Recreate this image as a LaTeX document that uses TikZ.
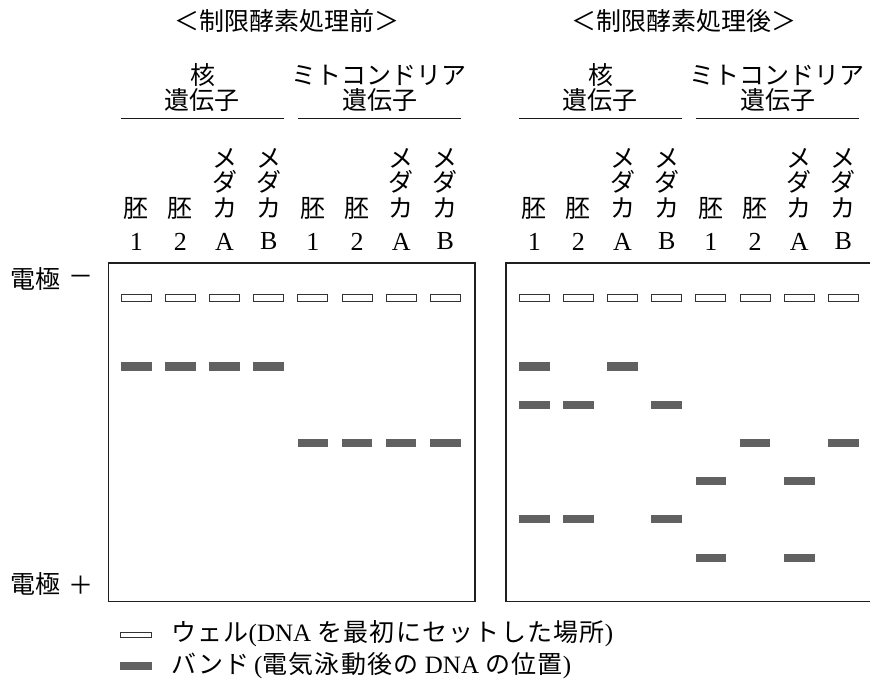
\documentclass[tikz,border=0pt]{standalone}
\usepackage{fontspec}
\setmainfont{Liberation Serif}
\newfontfamily\jp{Noto Sans CJK JP}
\newfontfamily\jpls{Noto Sans CJK JP}[LetterSpace=5]
\newfontfamily\lat{Liberation Serif}
\newcommand\jpsize{\fontsize{25}{29}\selectfont}
\begin{document}
\begin{tikzpicture}[x=1pt,y=-1pt,
  jptext/.style={font=\jp\jpsize, inner sep=0},
  legtext/.style={font=\jpls\jpsize, inner sep=0},
  lattext/.style={font=\lat\fontsize{26}{30}\selectfont, inner sep=0},
  gelbox/.style={draw=black!88, line width=1.8pt, inner sep=0, anchor=north west},
  wellbox/.style={draw=black!80, line width=0.9pt, fill=white, minimum width=30pt, minimum height=7.2pt, inner sep=0},
  bandbox/.style={fill=black!62, draw=none, minimum width=30.7pt, minimum height=8.4pt, inner sep=0},
  headrule/.style={line width=1.3pt, draw=black!90}]
\clip (0,0) rectangle (870,687);
\fill[white] (0,0) rectangle (870,687);

% gels
\node[gelbox, minimum width=366.5pt, minimum height=338.5pt] (gelL) at (107.5,262) {};
\node[gelbox, minimum width=367pt, minimum height=338.5pt] (gelR) at (505,262) {};

% wells
\foreach \i in {0,...,7} {
  \node[wellbox] (wL\i) at ({136.3+44.14*\i},298.3) {};
  \node[wellbox] (wR\i) at ({534.3+44.14*\i},298.3) {};
}

% bands before
\foreach \l/\y [count=\k] in {0/366.5,1/366.5,2/366.5,3/366.5,4/443,5/443,6/443,7/443}
  \node[bandbox] (bL\k) at ({136.3+44.14*\l},\y) {};
% bands after
\foreach \l/\y [count=\k] in {0/366.5,2/366.5,0/405,1/405,3/405,5/443,7/443,4/481,6/481,0/519,1/519,3/519,4/557.7,6/557.7}
  \node[bandbox] (bR\k) at ({534.3+44.14*\l},\y) {};

% titles
\node[jptext] (titleL) at (287,21) {＜制限酵素処理前＞};
\node[jptext] (titleR) at (684,21) {＜制限酵素処理後＞};

% headers and lane labels
\foreach \o/\p in {0/L,398/R} {
  \node[jptext] (kaku\p) at ({203+\o},75) {核};
  \node[jptext] (idn\p) at ({202+\o},100) {遺伝子};
  \node[jptext] (mito\p) at ({379+\o},75) {ミトコンドリア};
  \node[jptext] (idm\p) at ({380+\o},100) {遺伝子};
  \draw[headrule] ({121+\o},118.5) -- ({284+\o},118.5);
  \draw[headrule] ({297.7+\o},118.5) -- ({460.8+\o},118.5);
  \foreach \l/\n in {0/1,1/2,4/1,5/2} {
    \node[jptext] (hai\p\l) at ({136.3+44.14*\l+\o},208) {胚};
    \node[lattext] (num\p\l) at ({136.3+44.14*\l+\o},241.5) {\n};
  }
  \foreach \l/\n in {2/A,3/B,6/A,7/B} {
    \node[jptext] (me\p\l) at ({136.3+44.14*\l+\o},158) {メ};
    \node[jptext] (da\p\l) at ({136.3+44.14*\l+\o},181.7) {ダ};
    \node[jptext] (ka\p\l) at ({136.3+44.14*\l+\o},208) {カ};
    \node[lattext] (num\p\l) at ({136.3+44.14*\l+\o},241.5) {\n};
  }
}

% electrodes
\node[jptext, anchor=west] (elecM) at (10,279) {電極};
\node[jptext] (minus) at (81,280) {－};
\node[jptext, anchor=west] (elecP) at (10,584) {電極};
\node[jptext] (plus) at (81,585) {＋};

% legend
\node[wellbox, minimum width=31pt, minimum height=5.8pt] (legW) at (136,635) {};
\node[bandbox, minimum width=31.7pt] (legB) at (136,666) {};
\node[legtext, anchor=west] (legWt) at (171,634) {ウェル{\lat(DNA }を最初にセットした場所{\lat)}};
\node[legtext, anchor=west] (legBt) at (171,666) {バンド{\lat\,(}電気泳動後の{\lat\ DNA }の位置{\lat)}};
\end{tikzpicture}
\end{document}
